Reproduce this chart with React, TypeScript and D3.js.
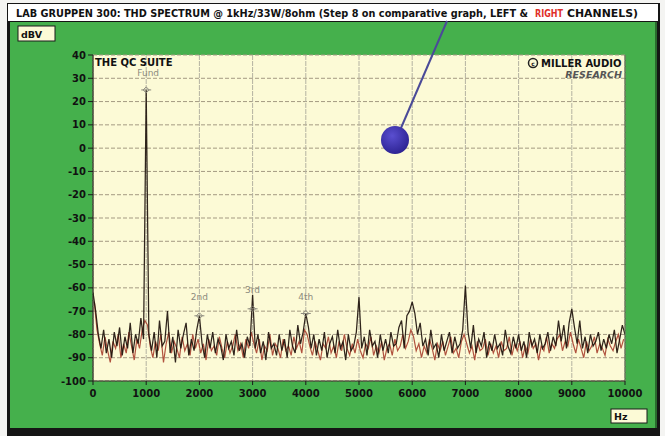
import React from "react";
import * as d3 from "d3";

const xTicks = [0, 1000, 2000, 3000, 4000, 5000, 6000, 7000, 8000, 9000, 10000];
const yTicks = [40, 30, 20, 10, 0, -10, -20, -30, -40, -50, -60, -70, -80, -90, -100];
const FREQ_STEP = 50;

// Left channel (dark trace), one value every 50 Hz from 0 Hz
const leftChannel = [
  -62, -70, -80, -86, -78, -88, -82, -90, -79, -85,
  -77, -89, -81, -86, -75, -88, -80, -84, -73, -82,
  25, -80, -87, -79, -90, -74, -85, -83, -70, -88,
  -81, -92, -78, -86, -80, -75, -89, -82, -87, -78,
  -72, -84, -90, -80, -86, -79, -88, -82, -85, -91,
  -80, -86, -83, -89, -78, -87, -84, -90, -81, -85,
  -63, -86, -80, -88, -83, -91, -79, -86, -84, -89,
  -80, -87, -82, -90, -78, -85, -88, -76, -84, -79,
  -71, -77, -86, -80, -89, -82, -87, -79, -90, -84,
  -81, -88, -78, -86, -83, -91, -80, -87, -85, -79,
  -64, -86, -81, -89, -78, -85, -83, -90, -80, -87,
  -82, -88, -79, -85, -84, -77, -74, -86, -72, -70,
  -66, -71, -80, -75, -85, -82, -89, -78, -86, -84,
  -90, -80, -87, -83, -79, -88, -81, -86, -84, -78,
  -59, -79, -86, -76, -88, -82, -85, -79, -90, -83,
  -87, -80, -86, -84, -89, -78, -85, -88, -81, -86,
  -80, -87, -83, -90, -79, -85, -82, -88, -80, -86,
  -84, -79, -87, -81, -85, -74, -83, -76, -86, -75,
  -69, -77, -84, -74, -86, -81, -88, -80, -85, -83,
  -79, -87, -82, -86, -80, -84, -78, -88, -82, -76,
  -80,
];

// Right channel (red trace), one value every 50 Hz from 25 Hz
const rightChannel = [
  -66, -78, -84, -89, -81, -87, -92, -83, -86, -80,
  -90, -84, -88, -79, -85, -91, -82, -86, -78, -74,
  -76, -85, -90, -83, -87, -80, -92, -84, -79, -88,
  -83, -86, -90, -81, -87, -84, -89, -80, -86, -82,
  -88, -84, -91, -82, -87, -85, -89, -81, -86, -90,
  -83, -88, -85, -80, -87, -84, -90, -82, -86, -79,
  -84, -88, -82, -91, -85, -87, -80, -89, -84, -86,
  -90, -82, -87, -85, -89, -81, -86, -83, -88, -78,
  -80, -85, -89, -83, -87, -91, -84, -86, -81, -88,
  -85, -90, -83, -87, -80, -86, -89, -84, -88, -82,
  -87, -90, -84, -86, -81, -89, -85, -88, -83, -91,
  -86, -84, -89, -82, -87, -85, -80, -86, -83, -78,
  -81, -87, -84, -90, -85, -88, -82, -86, -91, -84,
  -87, -83, -89, -85, -81, -88, -86, -90, -83, -80,
  -84, -88, -85, -91, -83, -87, -86, -82, -89, -84,
  -88, -85, -90, -83, -87, -86, -81, -89, -84, -87,
  -83, -90, -85, -88, -82, -86, -84, -91, -85, -87,
  -81, -88, -84, -86, -82, -80, -87, -83, -85, -79,
  -84, -88, -82, -86, -90, -83, -87, -85, -81, -88,
  -84, -86, -89, -82, -85, -87, -83, -80, -86, -82,
];

const harmonicLabels = ["Fund", "2nd", "3rd", "4th"];
const harmonicFreqs = [1000, 2000, 3000, 4000];
const harmonicLevels = [25, -72, -69, -71];
const harmonicLabelLevels = [31, -65, -62, -65];

const GREEN = "#45b04c";
const CREAM = "#fcfad6";
const FONT = "'DejaVu Sans', Verdana, sans-serif";
const TITLE_FONT = "'DejaVu Sans Condensed', 'DejaVu Sans', sans-serif";

export default function App() {
  const x = d3.scaleLinear().domain([0, 10000]).range([93, 625]);
  const y = d3.scaleLinear().domain([-100, 40]).range([381, 55]);
  const line = d3
    .line<[number, number]>()
    .x((d) => x(d[0]))
    .y((d) => y(d[1]));
  const leftPts = leftChannel.map((v, i) => [i * FREQ_STEP, v] as [number, number]);
  const rightPts = rightChannel.map(
    (v, i) => [i * FREQ_STEP + FREQ_STEP / 2, v] as [number, number]
  );
  const [x0, x1] = x.range();
  const [yb, yt] = y.range();

  return (
    <svg
      width={665}
      height={436}
      style={{ position: "fixed", left: 0, top: 0, display: "block" }}
      fontFamily={FONT}
    >
      <defs>
        <clipPath id="plotClip">
          <rect x={x0} y={yt} width={x1 - x0} height={yb - yt} />
        </clipPath>
        <radialGradient id="ball" cx="40%" cy="35%" r="70%">
          <stop offset="0%" stopColor="#5a4fd0" />
          <stop offset="100%" stopColor="#2b2190" />
        </radialGradient>
      </defs>
      <rect x={0} y={0} width={665} height={436} fill="#f4f4f2" />
      <rect x={7} y={3} width={653} height={433} fill="#151515" />
      <rect x={10} y={22} width={645} height={406} fill={GREEN} />
      <rect x={655} y={22} width={2} height={406} fill="#2a6a2e" />

      {/* title bar */}
      <rect x={8} y={4} width={650} height={17} fill="#ffffff" />
      <text
        x={16}
        y={17}
        fontSize={9.6}
        fontFamily={TITLE_FONT}
        fontWeight="bold"
        fill="#111"
        textLength={512}
        lengthAdjust="spacingAndGlyphs"
      >
        LAB GRUPPEN 300: THD SPECTRUM @ 1kHz/33W/8ohm (Step 8 on comparative graph, LEFT &amp;
      </text>
      <text
        x={535}
        y={17}
        fontSize={9.6}
        fontFamily={TITLE_FONT}
        fontWeight="bold"
        fill="#e0302a"
        textLength={28}
        lengthAdjust="spacingAndGlyphs"
      >
        RIGHT
      </text>
      <text
        x={567}
        y={17}
        fontSize={9.6}
        fontFamily={TITLE_FONT}
        fontWeight="bold"
        fill="#111"
        textLength={71}
        lengthAdjust="spacingAndGlyphs"
      >
        CHANNELS)
      </text>

      {/* dBV box */}
      <rect x={18} y={26} width={37} height={15} fill={CREAM} stroke="#1a1a1a" strokeWidth={1} />
      <text x={21} y={37.5} fontSize={9.5} fontWeight="bold" fill="#111">dBV</text>

      {/* plot area */}
      <rect x={x0} y={yt} width={x1 - x0} height={yb - yt} fill={CREAM} />
      {yTicks.map((t) => (
        <line
          key={"gy" + t}
          x1={x0}
          x2={x1}
          y1={y(t)}
          y2={y(t)}
          stroke="#a49a82"
          strokeWidth={1}
          strokeDasharray="4,2"
        />
      ))}
      {xTicks.map((t) => (
        <line
          key={"gx" + t}
          x1={x(t)}
          x2={x(t)}
          y1={yt}
          y2={yb}
          stroke="#b4b2a2"
          strokeWidth={1}
          strokeDasharray="5,1"
        />
      ))}

      {/* spectrum */}
      <g clipPath="url(#plotClip)">
        <path d={line(rightPts) || ""} fill="none" stroke="#a8402f" strokeWidth={1.2} opacity={0.9} />
        <path d={line(leftPts) || ""} fill="none" stroke="#1e120c" strokeWidth={1.25} opacity={0.92} />
      </g>

      {/* harmonic markers */}
      {harmonicLabels.map((lab, i) => {
        const cx = x(harmonicFreqs[i]);
        const cy = y(harmonicLevels[i]);
        return (
          <g key={lab}>
            <path
              d={`M${cx - 5},${cy} L${cx + 5},${cy} M${cx},${cy - 3} L${cx + 3},${cy} L${cx},${cy + 3} L${cx - 3},${cy} Z`}
              fill="none"
              stroke="#8c8a7e"
              strokeWidth={1}
            />
            <text
              x={cx + (i === 0 ? 2 : 0)}
              y={y(harmonicLabelLevels[i])}
              fontSize={9}
              fill="#8c8a7e"
              textAnchor="middle"
            >
              {lab}
            </text>
          </g>
        );
      })}

      {/* axes */}
      <line x1={x0} x2={x0} y1={yt} y2={yb} stroke="#2a2a20" strokeWidth={1.2} />
      <line x1={x0} x2={x1} y1={yb} y2={yb} stroke="#2a2a20" strokeWidth={1.2} />
      <line x1={x1} x2={x1} y1={yt} y2={yb} stroke="#4a5a40" strokeWidth={1} />
      {yTicks.map((t) => (
        <g key={"ty" + t}>
          <line x1={x0 - 5} x2={x0} y1={y(t)} y2={y(t)} stroke="#1a1a1a" strokeWidth={1} />
          <text
            x={x0 - 7}
            y={y(t) + 3.5}
            fontSize={10}
            fontWeight="bold"
            fill="#111"
            textAnchor="end"
          >
            {t}
          </text>
        </g>
      ))}
      {xTicks.map((t) => (
        <g key={"tx" + t}>
          <line x1={x(t)} x2={x(t)} y1={yb} y2={yb + 4} stroke="#1a1a1a" strokeWidth={1} />
          <text
            x={x(t)}
            y={yb + 16}
            fontSize={10}
            fontWeight="bold"
            fill="#111"
            textAnchor="middle"
          >
            {t}
          </text>
        </g>
      ))}

      {/* logos */}
      <text x={95} y={66} fontSize={10} fontWeight="bold" fill="#111">THE QC SUITE</text>
      <circle cx={533} cy={63} r={4.5} fill="none" stroke="#222" strokeWidth={1.5} />
      <text x={533} y={65.5} fontSize={6} fontWeight="bold" fill="#222" textAnchor="middle">c</text>
      <text x={541} y={67} fontSize={10} fontWeight="bold" fill="#111">MILLER AUDIO</text>
      <text
        x={622}
        y={78}
        fontSize={9.5}
        fontWeight="bold"
        fontStyle="italic"
        fill="#555"
        textAnchor="end"
      >
        RESEARCH
      </text>

      {/* pointer */}
      <line x1={401} x2={447} y1={128} y2={21} stroke="#4a4a98" strokeWidth={2} />
      <circle cx={395} cy={140} r={14} fill="url(#ball)" />

      {/* Hz box */}
      <rect x={611} y={409} width={36} height={14} fill={CREAM} stroke="#1a1a1a" strokeWidth={1} />
      <text x={614} y={420} fontSize={9.5} fontWeight="bold" fill="#111">Hz</text>
    </svg>
  );
}
